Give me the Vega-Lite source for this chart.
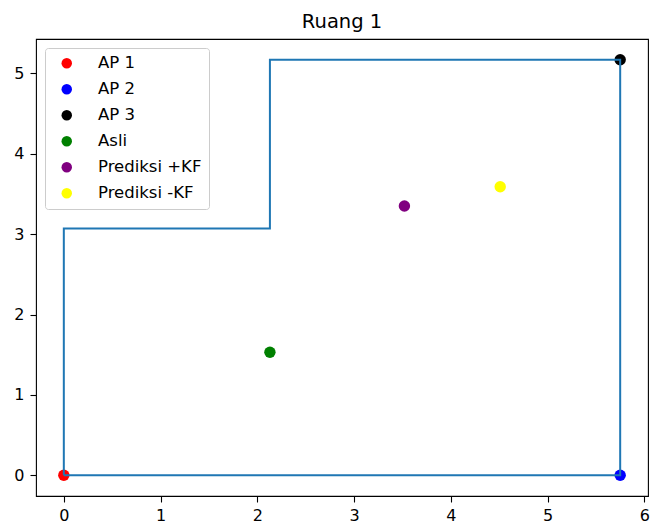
{
  "$schema": "https://vega.github.io/schema/vega-lite/v6.json",
  "width": 612,
  "height": 457,
  "autosize": {"type": "none"},
  "padding": {"left": 36, "top": 39, "right": 3, "bottom": 36},
  "config": {
    "font": "DejaVu Sans",
    "view": {"stroke": "black", "strokeWidth": 1.1},
    "axis": {"domain": false, "grid": false, "tickColor": "black", "tickSize": 6, "tickWidth": 1.1, "labelFontSize": 16, "labelColor": "black", "labelPadding": 5, "title": null, "format": "d"},
    "axisY": {"labelPadding": 6}
  },
  "title": {"text": "Ruang 1", "fontSize": 19.5, "fontWeight": "normal", "color": "black", "offset": 7, "anchor": "middle"},
  "datasets": {
    "room": [
      {"i": 0, "x": 0, "y": 0},
      {"i": 1, "x": 0, "y": 3.07},
      {"i": 2, "x": 2.13, "y": 3.07},
      {"i": 3, "x": 2.13, "y": 5.17},
      {"i": 4, "x": 5.75, "y": 5.17},
      {"i": 5, "x": 5.75, "y": 0},
      {"i": 6, "x": 0, "y": 0}
    ],
    "pts": [
      {"label": "AP 1", "x": 0, "y": 0},
      {"label": "AP 2", "x": 5.75, "y": 0},
      {"label": "AP 3", "x": 5.75, "y": 5.17},
      {"label": "Asli", "x": 2.13, "y": 1.53},
      {"label": "Prediksi +KF", "x": 3.52, "y": 3.35},
      {"label": "Prediksi -KF", "x": 4.51, "y": 3.59}
    ]
  },
  "layer": [
    {
      "data": {"name": "pts"},
      "mark": {"type": "circle", "size": 130, "opacity": 1},
      "encoding": {
        "x": {"field": "x", "type": "quantitative", "scale": {"domain": [-0.2875, 6.0375], "nice": false, "zero": false}, "axis": {"values": [0, 1, 2, 3, 4, 5, 6]}},
        "y": {"field": "y", "type": "quantitative", "scale": {"domain": [-0.2585, 5.4285], "nice": false, "zero": false}, "axis": {"values": [0, 1, 2, 3, 4, 5]}},
        "color": {
          "field": "label", "type": "nominal",
          "scale": {"domain": ["AP 1", "AP 2", "AP 3", "Asli", "Prediksi +KF", "Prediksi -KF"], "range": ["red", "blue", "black", "green", "purple", "yellow"]},
          "legend": {
            "title": null, "orient": "top-left", "offset": 9,
            "strokeColor": "#cccccc", "fillColor": "rgba(255,255,255,0.8)", "cornerRadius": 3,
            "padding": 7, "symbolOffset": 6.5, "symbolType": "circle", "symbolSize": 110, "symbolStrokeWidth": 0,
            "labelOffset": 23, "labelFontSize": 16.5, "labelColor": "black", "rowPadding": 9
          }
        }
      }
    },
    {
      "data": {"name": "room"},
      "mark": {"type": "line", "color": "#1f77b4", "strokeWidth": 2},
      "encoding": {
        "x": {"field": "x", "type": "quantitative"},
        "y": {"field": "y", "type": "quantitative"},
        "order": {"field": "i", "type": "quantitative"}
      }
    }
  ]
}
